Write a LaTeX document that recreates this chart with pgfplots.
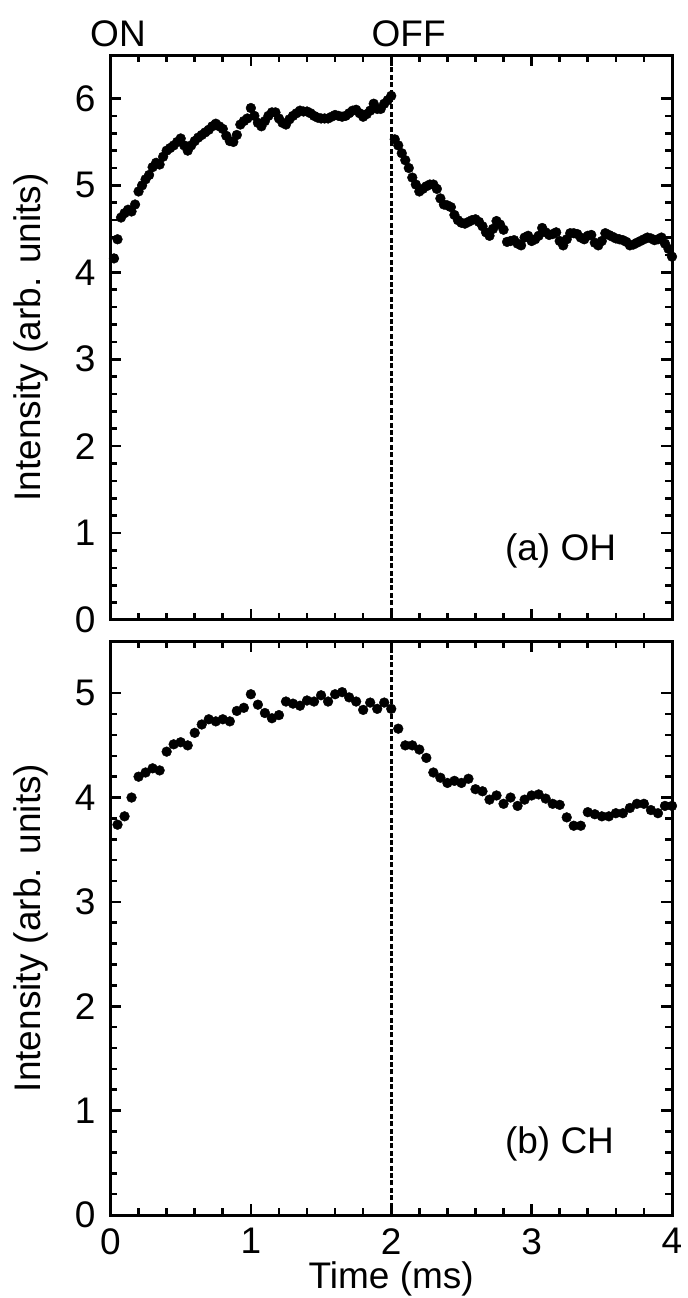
\documentclass[border=0pt]{standalone}
\usepackage{fontspec}
\setmainfont{Liberation Sans}
\usepackage{pgfplots}
\usepackage{pgfplotstable}
\pgfplotsset{compat=1.18}

\pgfplotstableread{
t v
0.025 4.16
0.050 4.38
0.075 4.63
0.100 4.68
0.125 4.72
0.150 4.70
0.175 4.78
0.200 4.93
0.225 5.00
0.250 5.07
0.275 5.12
0.300 5.21
0.325 5.26
0.350 5.24
0.375 5.33
0.400 5.40
0.425 5.43
0.450 5.46
0.475 5.50
0.500 5.54
0.525 5.46
0.550 5.40
0.575 5.46
0.600 5.51
0.625 5.55
0.650 5.58
0.675 5.61
0.700 5.64
0.725 5.68
0.750 5.71
0.775 5.68
0.800 5.65
0.825 5.57
0.850 5.51
0.875 5.50
0.900 5.58
0.925 5.70
0.950 5.74
0.975 5.77
1.000 5.89
1.025 5.80
1.050 5.72
1.075 5.68
1.100 5.74
1.125 5.80
1.150 5.84
1.175 5.84
1.200 5.77
1.225 5.72
1.250 5.70
1.275 5.76
1.300 5.80
1.325 5.83
1.350 5.86
1.375 5.85
1.400 5.85
1.425 5.83
1.450 5.80
1.475 5.78
1.500 5.77
1.525 5.77
1.550 5.77
1.575 5.79
1.600 5.81
1.625 5.80
1.650 5.79
1.675 5.80
1.700 5.83
1.725 5.86
1.750 5.87
1.775 5.83
1.800 5.79
1.825 5.82
1.850 5.86
1.875 5.94
1.900 5.88
1.925 5.88
1.950 5.94
1.975 5.98
2.000 6.03
2.025 5.53
2.050 5.46
2.075 5.37
2.100 5.29
2.125 5.20
2.150 5.09
2.175 5.01
2.200 4.93
2.225 4.96
2.250 4.99
2.275 5.01
2.300 5.01
2.325 4.96
2.350 4.85
2.375 4.78
2.400 4.77
2.425 4.75
2.450 4.66
2.475 4.60
2.500 4.57
2.525 4.56
2.550 4.58
2.575 4.60
2.600 4.61
2.625 4.58
2.650 4.53
2.675 4.46
2.700 4.42
2.725 4.50
2.750 4.59
2.775 4.55
2.800 4.49
2.825 4.35
2.850 4.36
2.875 4.37
2.900 4.33
2.925 4.31
2.950 4.40
2.975 4.42
3.000 4.36
3.025 4.38
3.050 4.42
3.075 4.51
3.100 4.46
3.125 4.43
3.150 4.44
3.175 4.46
3.200 4.36
3.225 4.31
3.250 4.38
3.275 4.45
3.300 4.45
3.325 4.44
3.350 4.40
3.375 4.38
3.400 4.42
3.425 4.43
3.450 4.34
3.475 4.31
3.500 4.36
3.525 4.45
3.550 4.43
3.575 4.41
3.600 4.39
3.625 4.38
3.650 4.37
3.675 4.35
3.700 4.31
3.725 4.32
3.750 4.34
3.775 4.36
3.800 4.38
3.825 4.40
3.850 4.39
3.875 4.37
3.900 4.38
3.925 4.40
3.950 4.33
3.975 4.27
4.000 4.18
}\ohdata

\pgfplotstableread{
t v
0.05 3.74
0.10 3.82
0.15 4.00
0.20 4.20
0.25 4.24
0.30 4.28
0.35 4.26
0.40 4.44
0.45 4.51
0.50 4.53
0.55 4.50
0.60 4.62
0.65 4.70
0.70 4.75
0.75 4.73
0.80 4.75
0.85 4.73
0.90 4.83
0.95 4.86
1.00 4.99
1.05 4.89
1.10 4.81
1.15 4.76
1.20 4.79
1.25 4.92
1.30 4.90
1.35 4.88
1.40 4.93
1.45 4.92
1.50 4.98
1.55 4.92
1.60 4.99
1.65 5.01
1.70 4.96
1.75 4.92
1.80 4.84
1.85 4.91
1.90 4.85
1.95 4.91
2.00 4.85
2.05 4.66
2.10 4.50
2.15 4.50
2.20 4.46
2.25 4.38
2.30 4.24
2.35 4.19
2.40 4.14
2.45 4.16
2.50 4.14
2.55 4.18
2.60 4.08
2.65 4.06
2.70 3.98
2.75 4.02
2.80 3.94
2.85 4.00
2.90 3.92
2.95 3.98
3.00 4.02
3.05 4.03
3.10 3.99
3.15 3.94
3.20 3.93
3.25 3.81
3.30 3.73
3.35 3.73
3.40 3.86
3.45 3.84
3.50 3.82
3.55 3.82
3.60 3.85
3.65 3.85
3.70 3.90
3.75 3.94
3.80 3.94
3.85 3.88
3.90 3.85
3.95 3.92
4.00 3.92
}\chdata

\pgfplotsset{
  myaxis/.style={
    scale only axis,
    width=280.75pt,
    xmin=0, xmax=4,
    xtick={0,1,2,3,4},
    minor x tick num=4,
    minor y tick num=4,
    tick align=inside,
    major tick length=5.3pt,
    minor tick length=3.3pt,
    every axis/.append style={line width=1.5pt},
    axis line style={line width=1.5pt},
    every tick/.style={line width=1.3pt, black},
    /pgf/number format/assume math mode=true,
    tick label style={font=\fontsize{18.5}{22}\selectfont},
    yticklabel style={anchor=east, inner sep=0pt, xshift=-6.75pt},
    xticklabel style={anchor=north, inner sep=0pt},
    xticklabel shift=6pt,
    clip=false,
    ylabel={Intensity (arb. units)},
    every axis y label/.style={at={(axis description cs:0,0.5)}, xshift=-35pt, anchor=base, rotate=90, inner sep=0pt, font=\fontsize{18.5}{22}\selectfont},
    every axis x label/.style={at={(axis description cs:0.5,0)}, yshift=-36.5pt, anchor=base, inner sep=0pt, font=\fontsize{18.5}{22}\selectfont},
  },
  datamarks/.style={only marks, mark=*, mark size=2.45pt, black, mark options={fill=black, draw=black, line width=0.2pt}},
  vline/.style={black, line width=1.3pt, dash pattern=on 2.5pt off 1.2pt, mark=none},
}

\begin{document}
\begin{tikzpicture}[font=\fontsize{18.5}{22}\selectfont]
\useasboundingbox (0,0) rectangle (343.5pt,649pt);

\begin{axis}[myaxis,
  at={(55.25pt,339pt)}, anchor=south west,
  height=282.5pt,
  ymin=0, ymax=6.5, ytick={0,1,2,3,4,5,6},
  xticklabels={},
]
\addplot[vline] coordinates {(2,0) (2,6.5)};
\addplot[datamarks] table[x=t, y=v] {\ohdata};
\node[anchor=base west, inner sep=0pt, yshift=4.15pt] at (axis cs:-0.155,6.5) {ON};
\node[anchor=base west, inner sep=0pt, yshift=4.15pt] at (axis cs:1.85,6.5) {OFF};
\node[anchor=base west, inner sep=0pt] at (axis cs:2.8,0.68) {(a) OH};
\end{axis}

\begin{axis}[myaxis,
  at={(55.25pt,41.5pt)}, anchor=south west,
  height=287pt,
  ymin=0, ymax=5.5, ytick={0,1,2,3,4,5},
  xlabel={Time (ms)},
]
\addplot[vline] coordinates {(2,0) (2,5.5)};
\addplot[datamarks] table[x=t, y=v] {\chdata};
\node[anchor=base west, inner sep=0pt] at (axis cs:2.8,0.59) {(b) CH};
\end{axis}
\end{tikzpicture}
\end{document}
